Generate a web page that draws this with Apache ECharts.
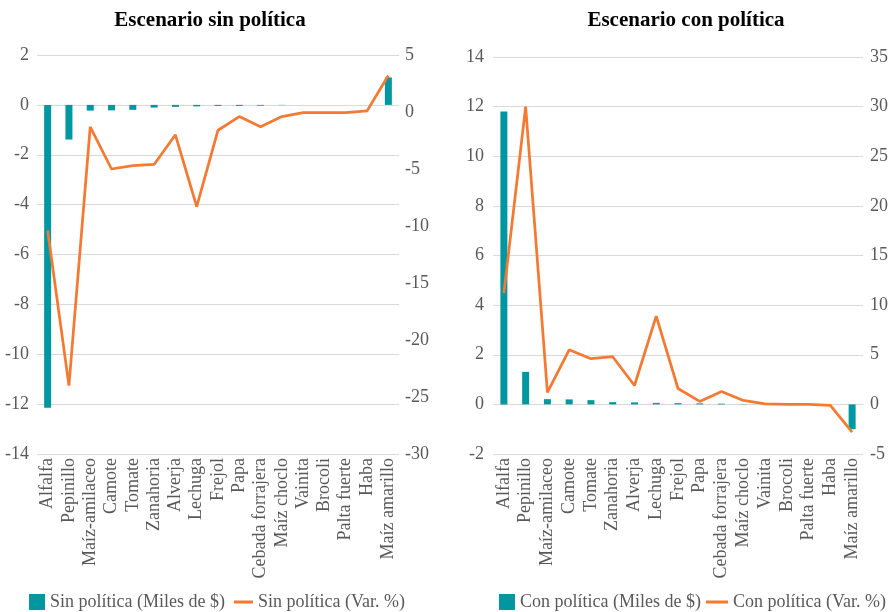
<!DOCTYPE html>
<html>
<head>
<meta charset="utf-8">
<script src="https://cdn.jsdelivr.net/npm/echarts@6/dist/echarts.min.js"></script>
<style>
html,body{margin:0;padding:0;background:#fff;}
#c{width:892px;height:612px;}
</style>
</head>
<body>
<div id="c"></div>
<script>
const categories = ["Alfalfa","Pepinillo","Maíz-amilaceo","Camote","Tomate","Zanahoria","Alverja","Lechuga","Frejol","Papa","Cebada forrajera","Maíz choclo","Vainita","Brocoli","Palta fuerte","Haba","Maíz amarillo"];
const sinMiles = [-12.15,-1.39,-0.23,-0.22,-0.2,-0.11,-0.08,-0.06,-0.04,-0.04,-0.03,-0.01,0,0,0,0,1.1];
const sinVar = [-10.4,-24.0,-1.3,-5.0,-4.7,-4.6,-2.0,-8.3,-1.6,-0.4,-1.3,-0.4,-0.05,-0.05,-0.05,0.1,3.2];
const conMiles = [11.8,1.31,0.21,0.2,0.17,0.09,0.08,0.06,0.05,0.04,0.03,0.01,0,0,0,0,-1.0];
const conVar = [11.2,30.0,1.2,5.5,4.6,4.8,1.9,8.9,1.6,0.3,1.3,0.4,0.05,0,0,-0.1,-2.8];
const titles = ["Escenario sin política","Escenario con política"];
const seriesNames = ["Sin política (Miles de $)","Sin política (Var. %)","Con política (Miles de $)","Con política (Var. %)"];

const FONT = "Liberation Serif";
const GRAY = "#595959";
const TEAL = "#0097A0";
const ORANGE = "#F47A33";
const lbl = {color: GRAY, fontFamily: FONT, fontSize: 18};

function yAx(grid, min, max, interval, pos, split, margin){
  return {type:'value', gridIndex:grid, min:min, max:max, interval:interval, position:pos,
    axisLine:{show:false}, axisTick:{show:false},
    splitLine:{show:split, lineStyle:{color:'#d9d9d9', width:1}},
    axisLabel:Object.assign({margin:margin}, lbl)};
}
function xAx(grid){
  return {type:'category', gridIndex:grid, data:categories, position:'bottom',
    axisLine:{show:false, onZero:false}, axisTick:{show:false},
    axisLabel:Object.assign({rotate:90, interval:0, margin:4}, lbl)};
}
function legend(name, left, w, h){
  return {data:[{name:name, icon:'rect'}], left:left, top:588, itemWidth:w, itemHeight:h, itemGap:0,
    textStyle:{color:GRAY, fontFamily:FONT, fontSize:18}, selectedMode:false};
}

const chart = echarts.init(document.getElementById('c'), null, {renderer:'canvas'});
chart.setOption({
  backgroundColor:'#fff',
  animation:false,
  title:[
    {text:titles[0], left:205, top:5, textAlign:'center', textStyle:{fontFamily:FONT, fontWeight:'bold', fontSize:21, color:'#000'}},
    {text:titles[1], left:681, top:5, textAlign:'center', textStyle:{fontFamily:FONT, fontWeight:'bold', fontSize:21, color:'#000'}}
  ],
  legend:[
    legend(seriesNames[0], 24, 16, 16),
    legend(seriesNames[1], 229, 19, 3),
    legend(seriesNames[2], 494, 16, 16),
    legend(seriesNames[3], 701, 22, 3)
  ],
  grid:[
    {left:37, top:55, width:362, height:399},
    {left:493, top:57, width:370, height:397}
  ],
  xAxis:[xAx(0), xAx(1)],
  yAxis:[
    yAx(0,-14,2,2,'left',true,8),
    yAx(0,-30,5,5,'right',false,6),
    yAx(1,-2,14,2,'left',true,9),
    yAx(1,-5,35,5,'right',false,7)
  ],
  series:[
    {name:seriesNames[0], type:'bar', xAxisIndex:0, yAxisIndex:0, data:sinMiles, barWidth:7, itemStyle:{color:TEAL}},
    {name:seriesNames[1], type:'line', xAxisIndex:0, yAxisIndex:1, data:sinVar, symbol:'none', showSymbol:false, lineStyle:{color:ORANGE, width:2.75}, itemStyle:{color:ORANGE}},
    {name:seriesNames[2], type:'bar', xAxisIndex:1, yAxisIndex:2, data:conMiles, barWidth:7, itemStyle:{color:TEAL}},
    {name:seriesNames[3], type:'line', xAxisIndex:1, yAxisIndex:3, data:conVar, symbol:'none', showSymbol:false, lineStyle:{color:ORANGE, width:2.75}, itemStyle:{color:ORANGE}}
  ]
});
</script>
</body>
</html>
